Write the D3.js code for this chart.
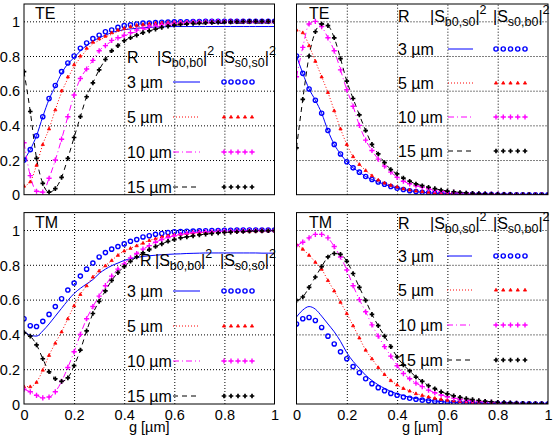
<!DOCTYPE html>
<html><head><meta charset="utf-8">
<script src="https://cdn.jsdelivr.net/npm/d3@7"></script>
<style>body{margin:0;background:#fff}svg text{font-family:"Liberation Sans",Arial,Helvetica,sans-serif;fill:#000}</style>
</head><body><svg id="c" width="555" height="439"></svg>
<script>
// ---------- data ----------
const gGrid = [0,0.025,0.05,0.075,0.1,0.125,0.15,0.175,0.2,0.225,0.25,0.275,0.3,0.325,0.35,0.375,0.4,0.425,0.45,0.475,0.5,0.525,0.55,0.575,0.6,0.625,0.65,0.675,0.7,0.725,0.75,0.775,0.8,0.825,0.85,0.875,0.9,0.925,0.95,0.975,1];
const radii = ["3 µm","5 µm","10 µm","15 µm"];
const xTicks = [0,0.2,0.4,0.6,0.8,1];
const yTicks = [0,0.2,0.4,0.6,0.8,1];

// TE, |S_b0,b0|^2 (lines) and |S_s0,s0|^2 (points)
const teLeftLine3 = [.20,.26,.34,.45,.55,.625,.70,.755,.79,.83,.86,.885,.905,.92,.935,.945,.952,.956,.96,.963,.965,.967,.968,.969,.97,.97,.97,.97,.97,.97,.97,.97,.97,.97,.97,.97,.97,.97,.97,.97,.97];
const teLeftPts3  = [.20,.26,.34,.45,.555,.63,.71,.76,.80,.845,.875,.90,.92,.94,.95,.965,.975,.98,.985,.99,.99,.993,.995,.996,.997,.998,.998,.999,.999,1,1,1,1,1,1,1,1,1,1,1,1];
const teLeftLine5 = [.05,.075,.17,.29,.38,.49,.59,.67,.74,.79,.835,.87,.89,.91,.925,.94,.95,.96,.966,.972,.976,.979,.982,.984,.986,.987,.988,.989,.99,.99,.99,.99,.99,.99,.99,.99,.99,.99,.99,.99,.99];
const teLeftPts5  = [.05,.075,.17,.29,.38,.49,.60,.68,.75,.80,.845,.88,.90,.915,.935,.95,.96,.97,.978,.983,.987,.99,.992,.994,.995,.996,.997,.998,.998,.999,.999,1,1,1,1,1,1,1,1,1,1];
const teLeftLine10 = [.30,.11,.02,.015,.095,.20,.32,.45,.575,.67,.725,.775,.83,.86,.885,.90,.915,.93,.94,.95,.96,.966,.972,.976,.98,.983,.985,.987,.989,.99,.991,.992,.993,.994,.994,.995,.995,.995,.995,.995,.995];
const teLeftPts10  = [.30,.11,.02,.015,.095,.20,.32,.45,.575,.67,.725,.775,.83,.86,.89,.905,.92,.935,.95,.96,.97,.975,.98,.984,.988,.99,.993,.995,.996,.997,.998,.999,.999,1,1,1,1,1,1,1,1];
const teLeftLine15 = [.71,.48,.21,.065,.015,.035,.10,.21,.33,.45,.565,.645,.72,.78,.83,.86,.888,.905,.92,.935,.945,.955,.965,.972,.978,.98,.982,.984,.985,.986,.987,.988,.988,.989,.989,.99,.99,.99,.99,.99,.99];
const teLeftPts15  = [.71,.48,.21,.065,.015,.035,.10,.21,.33,.45,.565,.645,.72,.78,.83,.86,.888,.905,.92,.935,.945,.955,.965,.972,.978,.982,.985,.988,.99,.992,.993,.995,.996,.997,.998,.999,1,1,1,1,1];

// TE, |S_b0,s0|^2 (lines) and |S_s0,b0|^2 (points)
const teRightPts3  = [.80,.70,.61,.545,.47,.37,.29,.235,.19,.155,.13,.105,.088,.073,.06,.047,.037,.03,.023,.018,.014,.011,.008,.006,.005,.004,.003,.002,.002,.001,.001,.001,0,0,0,0,0,0,0,0,0];
const teRightLine3 = [.80,.70,.61,.545,.47,.37,.29,.235,.19,.155,.13,.105,.088,.073,.06,.047,.037,.03,.023,.018,.014,.011,.008,.006,.005,.004,.003,.002,.002,.001,.001,.001,0,0,0,0,0,0,0,0,0];
const teRightPts5  = [.95,.935,.86,.77,.68,.59,.485,.38,.29,.22,.175,.14,.11,.085,.068,.055,.045,.035,.028,.022,.018,.015,.012,.01,.008,.006,.005,.004,.003,.003,.002,.002,.001,.001,.001,0,0,0,0,0,0];
const teRightLine5 = teRightPts5;
const teRightPts10 = [.68,.85,.985,1.0,.97,.905,.83,.72,.605,.51,.40,.315,.255,.205,.165,.13,.10,.078,.063,.052,.043,.034,.025,.02,.016,.013,.01,.008,.007,.006,.005,.004,.003,.002,.002,.001,.001,0,0,0,0];
const teRightLine10 = teRightPts10;
const teRightPts15 = [.27,.55,.80,.94,.985,.975,.905,.785,.655,.555,.46,.37,.29,.235,.185,.145,.12,.096,.078,.062,.052,.043,.035,.027,.021,.017,.013,.01,.008,.006,.005,.004,.003,.002,.002,.001,.001,.001,0,0,0];
const teRightLine15 = teRightPts15;

// TM, |S_b0,b0|^2 (lines) and |S_s0,s0|^2 (points)
const tmLeftLine3 = [.42,.395,.39,.42,.46,.505,.55,.595,.635,.665,.69,.715,.75,.775,.795,.81,.825,.835,.842,.848,.852,.855,.858,.86,.862,.863,.865,.866,.867,.868,.868,.868,.868,.868,.868,.868,.868,.868,.867,.867,.867];
const tmLeftPts3  = [.49,.45,.445,.475,.515,.56,.605,.655,.695,.735,.775,.81,.845,.87,.89,.905,.92,.935,.945,.96,.967,.975,.98,.985,.99,.991,.993,.994,.995,.996,.997,.997,.998,.998,.999,.999,1,1,1,1,1];
const tmLeftPts5  = [.10,.10,.125,.195,.28,.35,.415,.49,.565,.63,.68,.73,.765,.795,.825,.855,.88,.895,.91,.925,.94,.95,.96,.967,.972,.976,.98,.983,.985,.987,.988,.989,.99,.991,.992,.993,.993,.994,.994,.995,.995];
const tmLeftLine5 = tmLeftPts5;
const tmLeftPts10 = [.085,.07,.05,.035,.04,.07,.13,.21,.30,.40,.49,.56,.62,.68,.735,.775,.805,.84,.865,.89,.91,.93,.945,.957,.967,.974,.98,.984,.987,.989,.99,.992,.993,.994,.995,.996,.997,.997,.998,.998,.999];
const tmLeftLine10 = tmLeftPts10;
const tmLeftPts15 = [.41,.39,.34,.26,.185,.145,.13,.15,.22,.31,.42,.52,.59,.65,.71,.755,.79,.82,.845,.868,.887,.905,.92,.935,.945,.955,.96,.966,.972,.976,.98,.983,.986,.988,.99,.991,.993,.994,.995,.996,.997];
const tmLeftLine15 = tmLeftPts15;

// TM, |S_b0,s0|^2 (lines) and |S_s0,b0|^2 (points)
const tmRightLine3 = [.50,.54,.56,.545,.505,.46,.415,.36,.295,.245,.205,.165,.135,.11,.09,.072,.058,.048,.038,.031,.025,.021,.017,.014,.011,.009,.008,.006,.005,.004,.004,.003,.003,.002,.002,.001,.001,.001,.001,0,0];
const tmRightPts3  = [.46,.49,.497,.48,.44,.39,.345,.30,.26,.215,.18,.145,.117,.094,.076,.061,.05,.04,.033,.027,.022,.018,.015,.012,.01,.008,.007,.006,.005,.004,.003,.003,.002,.002,.001,.001,.001,.001,0,0,0];
const tmRightPts5  = [.915,.89,.855,.815,.775,.71,.65,.585,.52,.45,.38,.31,.26,.21,.17,.135,.11,.09,.075,.06,.05,.041,.033,.027,.022,.018,.015,.012,.01,.008,.007,.005,.004,.004,.003,.003,.002,.002,.001,.001,0];
const tmRightLine5 = tmRightPts5;
const tmRightPts10 = [.91,.93,.955,.975,.975,.955,.905,.845,.77,.68,.60,.53,.455,.39,.33,.275,.22,.175,.145,.12,.10,.08,.065,.052,.042,.034,.027,.022,.018,.015,.012,.01,.008,.006,.005,.004,.003,.002,.002,.001,.001];
const tmRightLine10 = tmRightPts10;
const tmRightPts15 = [.595,.615,.67,.73,.79,.845,.865,.86,.82,.75,.67,.595,.515,.45,.39,.33,.27,.225,.19,.155,.13,.105,.088,.07,.058,.047,.038,.031,.025,.02,.016,.013,.01,.008,.007,.005,.004,.003,.003,.002,.002];
const tmRightLine15 = tmRightPts15;

// ---------- styles ----------
const colors = ["#0000ff","#ff0000","#ff00ff","#000000"];
const dashes = [null,"1,2","6,3,1,3","5,4"];
const font = '"Liberation Sans",Arial,Helvetica,sans-serif';

const panels = [
  {mode:"TE", left:24, right:274.5, top:4, bottom:194.7, xLabels:false, yLabels:true,
   lines:[teLeftLine3,teLeftLine5,teLeftLine10,teLeftLine15], pts:[teLeftPts3,teLeftPts5,teLeftPts10,teLeftPts15],
   subA:"b0,b0", subB:"s0,s0",
   leg:{rx:127, tx:127, hy:63, sa:157, sb:220, rows:[88,123,158,193], l1:173, l2:200, p1:224, p2:252},
   tag:{x:35, y:18.5}},
  {mode:"TE", left:296.5, right:548, top:4, bottom:194.7, xLabels:false, yLabels:false,
   lines:[teRightLine3,teRightLine5,teRightLine10,teRightLine15], pts:[teRightPts3,teRightPts5,teRightPts10,teRightPts15],
   subA:"b0,s0", subB:"s0,b0",
   leg:{rx:398, tx:398, hy:22, sa:430, sb:493, rows:[55,89,123,157], l1:448, l2:473, p1:496, p2:525},
   tag:{x:309, y:18.5}},
  {mode:"TM", left:24, right:274.5, top:212.6, bottom:404, xLabels:true, yLabels:true,
   lines:[tmLeftLine3,tmLeftLine5,tmLeftLine10,tmLeftLine15], pts:[tmLeftPts3,tmLeftPts5,tmLeftPts10,tmLeftPts15],
   subA:"b0,b0", subB:"s0,s0",
   leg:{rx:140, tx:127, hy:266, sa:155, sb:220, rows:[297,332,367,402], l1:173, l2:200, p1:224, p2:252},
   tag:{x:35, y:228}},
  {mode:"TM", left:296.5, right:548, top:212.6, bottom:404, xLabels:true, yLabels:false,
   lines:[tmRightLine3,tmRightLine5,tmRightLine10,tmRightLine15], pts:[tmRightPts3,tmRightPts5,tmRightPts10,tmRightPts15],
   subA:"b0,s0", subB:"s0,b0",
   leg:{rx:398, tx:398, hy:229, sa:430, sb:493, rows:[262,296,331,366], l1:447, l2:472, p1:496, p2:525},
   tag:{x:309, y:228}}
];

const svg = d3.select("#c");

function marker(sel, k, x, y) {
  if (k === 0) {
    sel.append("circle").attr("cx",x).attr("cy",y).attr("r",2.1)
      .attr("fill","none").attr("stroke",colors[0]).attr("stroke-width",1.4);
  } else if (k === 1) {
    sel.append("path").attr("transform",`translate(${x},${y})`)
      .attr("d","M0,-1.7L1.6,1.1L-1.6,1.1Z").attr("fill",colors[1]).attr("stroke",colors[1]).attr("stroke-width",0.8);
  } else if (k === 2) {
    sel.append("path").attr("transform",`translate(${x},${y})`)
      .attr("d","M-2.6,0H2.6M0,-2.6V2.6").attr("stroke",colors[2]).attr("stroke-width",1.4);
  } else {
    sel.append("path").attr("transform",`translate(${x},${y})`)
      .attr("d","M-2.3,0H2.3M0,-2.3V2.3").attr("stroke",colors[3]).attr("stroke-width",1.7);
  }
}

function fmt(d){ return d===0?"0":d===1?"1":d3.format(".1f")(d); }

panels.forEach((p, pi) => {
  const x = d3.scaleLinear().domain([0,1]).range([p.left, p.right]);
  const y = d3.scaleLinear().domain([0,1.1]).range([p.bottom, p.top]);
  const g = svg.append("g");
  const clipId = "clip" + pi;
  svg.append("clipPath").attr("id",clipId).append("rect")
    .attr("x",p.left).attr("y",p.top).attr("width",p.right-p.left).attr("height",p.bottom-p.top);

  // grid
  const gx = g.append("g").attr("transform",`translate(0,${p.bottom})`)
    .call(d3.axisBottom(x).tickValues([0.2,0.4,0.6,0.8]).tickSize(-(p.bottom-p.top)).tickFormat(""));
  const gy = g.append("g").attr("transform",`translate(${p.left},0)`)
    .call(d3.axisLeft(y).tickValues([0.2,0.4,0.6,0.8,1]).tickSize(-(p.right-p.left)).tickFormat(""));
  [gx,gy].forEach(a => { a.select(".domain").remove();
    a.selectAll("line").attr("stroke","#000").attr("stroke-width",1).attr("stroke-dasharray","1,2"); });

  // tick labels
  if (p.yLabels) {
    const ay = g.append("g").attr("transform",`translate(${p.left},0)`)
      .call(d3.axisLeft(y).tickValues(yTicks).tickSize(0).tickPadding(4).tickFormat(fmt));
    ay.select(".domain").remove();
    ay.selectAll("text").attr("font-size",14.5).attr("font-family",font).attr("dy","0.36em");
  }
  if (p.xLabels) {
    const ax = g.append("g").attr("transform",`translate(0,${p.bottom})`)
      .call(d3.axisBottom(x).tickValues(xTicks).tickSize(0).tickPadding(6).tickFormat(fmt));
    ax.select(".domain").remove();
    ax.selectAll("text").attr("font-size",14.5).attr("font-family",font);
    g.append("text").attr("x",(p.left+p.right)/2).attr("y",432).attr("text-anchor","middle")
      .attr("font-size",14.5).text("g [µm]");
  }

  // curves
  const plot = g.append("g").attr("clip-path",`url(#${clipId})`);
  const line = d3.line().x((d,i)=>x(gGrid[i])).y(d=>y(d)).curve(d3.curveMonotoneX);
  p.lines.forEach((arr,k) => {
    plot.append("path").attr("d", line(arr)).attr("fill","none")
      .attr("stroke",colors[k]).attr("stroke-width",1)
      .attr("stroke-dasharray",dashes[k]);
  });
  p.pts.forEach((arr,k) => {
    const mg = plot.append("g");
    arr.forEach((v,i) => marker(mg, k, x(gGrid[i]), y(v)));
  });

  // frame
  g.append("rect").attr("x",p.left).attr("y",p.top).attr("width",p.right-p.left).attr("height",p.bottom-p.top)
    .attr("fill","none").attr("stroke","#000").attr("stroke-width",1);

  // panel tag
  g.append("text").attr("x",p.tag.x).attr("y",p.tag.y).attr("font-size",16).text(p.mode);

  // legend
  const L = p.leg;
  const lg = g.append("g").attr("font-size",16);
  lg.append("text").attr("x",L.rx).attr("y",L.hy).text("R");
  [[L.sa,p.subA],[L.sb,p.subB]].forEach(([sx,sub]) => {
    const t = lg.append("text").attr("x",sx).attr("y",L.hy);
    t.append("tspan").text("|S");
    t.append("tspan").attr("font-size",12.5).attr("dy",4).text(sub);
    t.append("tspan").attr("dy",-4).text("|");
    t.append("tspan").attr("font-size",12.5).attr("dy",-8).text("2");
  });
  radii.forEach((r,k) => {
    const by = L.rows[k];
    lg.append("text").attr("x",L.tx).attr("y",by).text(r);
    lg.append("line").attr("x1",L.l1).attr("x2",L.l2).attr("y1",by-6).attr("y2",by-6)
      .attr("stroke",colors[k]).attr("stroke-width",1).attr("stroke-dasharray",dashes[k]);
    const mg = lg.append("g");
    d3.range(5).forEach(j => marker(mg, k, L.p1 + j*(L.p2-L.p1)/4, by-6));
  });
});
</script></body></html>
